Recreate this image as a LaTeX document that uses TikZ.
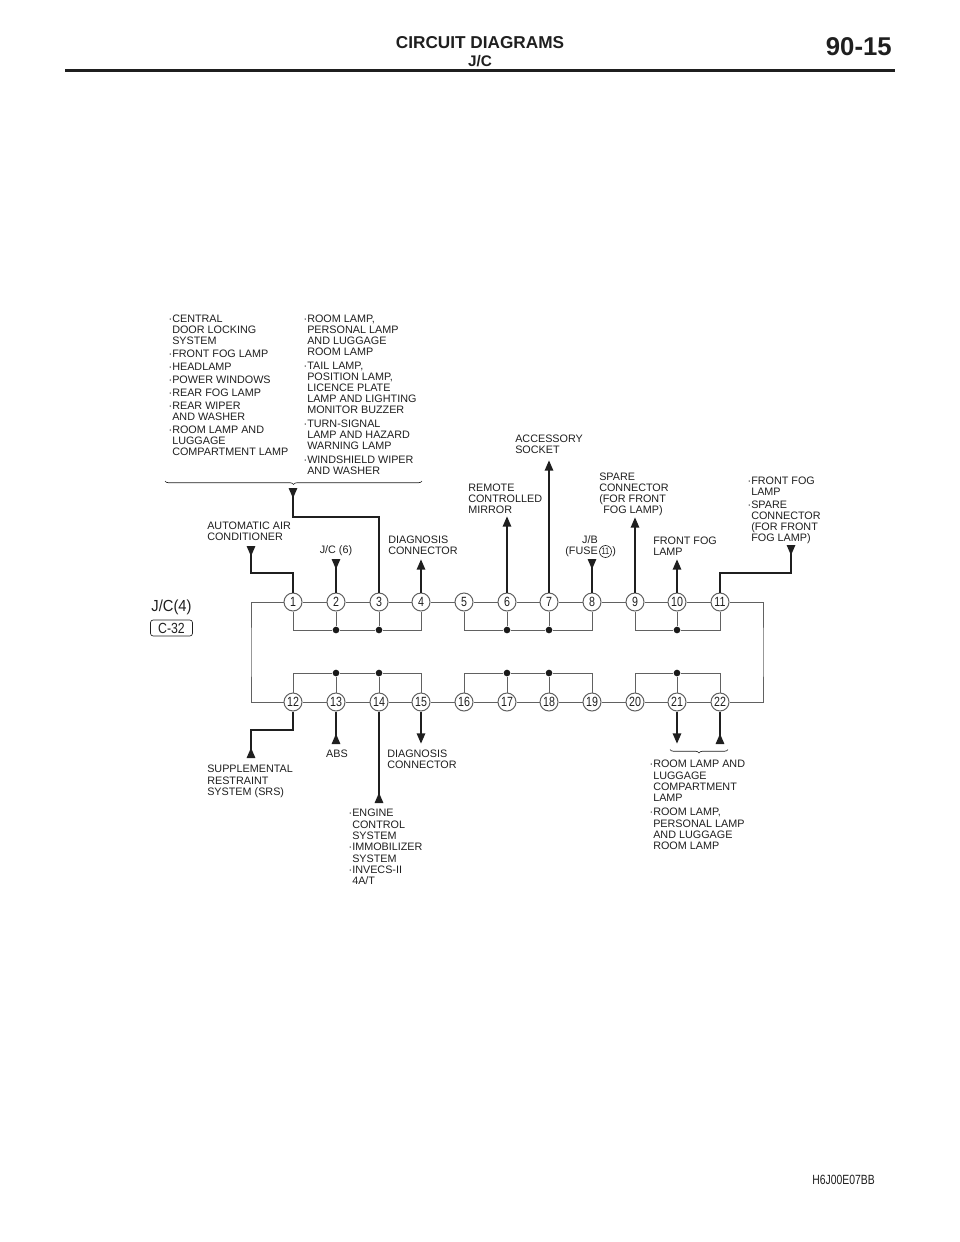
\documentclass[tikz,border=0pt]{standalone}
\usepackage{fontspec}
\setmainfont{Liberation Sans}
\usetikzlibrary{positioning,arrows.meta,decorations.pathreplacing}
\newcommand{\narrownum}[2][.8]{\scalebox{#1}[1]{#2}}
\newcommand{\itemdot}{\llap{\textperiodcentered}}
\definecolor{inkline}{gray}{0.12}
\definecolor{busline}{gray}{0.38}
\tikzset{
  lbl/.style = {anchor = north west, inner sep = 0pt, align = left, text = inkline, font = \fontsize{8.1}{8.25}\selectfont},
  lblwide/.style = {lbl, font = \fontsize{8.1}{8.5}\selectfont},
  lblc/.style = {inner sep = 0pt, align = center, text = inkline, font = \fontsize{8.1}{8.25}\selectfont},
  pin/.style = {draw = busline, fill = white, shape = circle, line width = 0.75pt, minimum size = 13.5pt, inner sep = 0pt, text = inkline, font = \fontsize{10}{10}\selectfont},
  bus/.style = {draw = busline, line width = 0.75pt},
  joint/.style = {fill = black!90, shape = circle, minimum size = 5pt, inner sep = 0pt},
  wire/.style = {draw = inkline, line width = 2pt},
  wireout/.style = {wire, -{Triangle[length = 8pt, width = 6pt]}},
  wirein/.style = {wire, -{Triangle[reversed, length = 8pt, width = 6pt]}},
  bracket/.style = {draw = inkline, line width = 0.5pt, decorate, decoration = {brace, mirror, amplitude = 2.6pt}}
}
\begin{document}
\begin{tikzpicture}[x = 0.75pt, y = -0.75pt]
\useasboundingbox (0,0) rectangle (960,1242);
% page head
\node[inner sep = 0pt, text = inkline, font = \fontsize{12.9}{13}\bfseries] (title) at (480,43) {CIRCUIT DIAGRAMS};
\node[inner sep = 0pt, text = inkline, font = \fontsize{11.5}{12}\bfseries] (subtitle) at (480,61.5) {J/C};
\node[anchor = east, inner sep = 0pt, text = inkline, font = \fontsize{19.3}{20}\bfseries] (pageno) at (892,47) {90-15};
\draw[draw = inkline, line width = 2.2pt] (65,70.5) -- (895,70.5);
% connector pins
\foreach \n/\xp in {1/293,2/336,3/379,4/421,5/464,6/507,7/549,8/592,9/635,10/677,11/720}
  \node[pin] (p\n) at (\xp,602) {\narrownum{\n}};
\foreach \n/\xp in {12/293,13/336,14/379,15/421,16/464,17/507,18/549,19/592,20/635,21/677,22/720}
  \node[pin] (p\n) at (\xp,702) {\narrownum{\n}};
\foreach \a/\b in {1/2,2/3,3/4,4/5,5/6,6/7,7/8,8/9,9/10,10/11,12/13,13/14,14/15,15/16,16/17,17/18,18/19,19/20,20/21,21/22}
  \draw[bus] (p\a) -- (p\b);
\coordinate (railL) at (251,652);
\coordinate (railR) at (763,652);
\draw[bus] (p1) -| (railL) |- (p12);
\draw[bus] (p11) -| (railR) |- (p22);
% joints
\foreach \n/\xp/\yp in {a/336/630,b/379/630,c/507/630,d/549/630,e/677/630,f/336/673,g/379/673,h/507/673,i/549/673,j/677/673}
  \node[joint] (j\n) at (\xp,\yp) {};
\draw[bus] (p1) |- (ja) -- (jb) -| (p4);
\draw[bus] (p2) -- (ja);
\draw[bus] (p3) -- (jb);
\draw[bus] (p5) |- (jc) -- (jd) -| (p8);
\draw[bus] (p6) -- (jc);
\draw[bus] (p7) -- (jd);
\draw[bus] (p9) |- (je) -| (p11);
\draw[bus] (p10) -- (je);
\draw[bus] (p12) |- (jf) -- (jg) -| (p15);
\draw[bus] (p13) -- (jf);
\draw[bus] (p14) -- (jg);
\draw[bus] (p16) |- (jh) -- (ji) -| (p19);
\draw[bus] (p17) -- (jh);
\draw[bus] (p18) -- (ji);
\draw[bus] (p20) |- (jj) -| (p22);
\draw[bus] (p21) -- (jj);
% wire ends and bends
\coordinate (acEnd) at (251,546);
\coordinate (acBend) at (293,573);
\coordinate (jc6End) at (336,559);
\coordinate (bigEnd) at (293,488);
\coordinate (bigBend) at (379,517);
\coordinate (diagEnd) at (421,559);
\coordinate (mirrorEnd) at (507,516);
\coordinate (socketEnd) at (549,460);
\coordinate (fuseEnd) at (592,559);
\coordinate (spareEnd) at (635,517);
\coordinate (fogEnd) at (677,559);
\coordinate (fogBEnd) at (791,545);
\coordinate (fogBBend) at (720,573);
\coordinate (srsEnd) at (251,758);
\coordinate (srsBend) at (293,730);
\coordinate (absEnd) at (336,744);
\coordinate (engEnd) at (379,803);
\coordinate (diagBEnd) at (421,744);
\coordinate (roomAEnd) at (677,744);
\coordinate (roomBEnd) at (720,744);
% wires
\draw[wirein] (p1) -- (acBend) -| (acEnd);
\draw[wirein] (p2) -- (jc6End);
\draw[wirein] (p3) -- (bigBend) -| (bigEnd);
\draw[wireout] (p4) -- (diagEnd);
\draw[wireout] (p6) -- (mirrorEnd);
\draw[wireout] (p7) -- (socketEnd);
\draw[wirein] (p8) -- (fuseEnd);
\draw[wireout] (p9) -- (spareEnd);
\draw[wireout] (p10) -- (fogEnd);
\draw[wirein] (p11) -- (fogBBend) -| (fogBEnd);
\draw[wirein] (p12) -- (srsBend) -| (srsEnd);
\draw[wirein] (p13) -- (absEnd);
\draw[wirein] (p14) -- (engEnd);
\draw[wireout] (p15) -- (diagBEnd);
\draw[wireout] (p21) -- (roomAEnd);
\draw[wirein] (p22) -- (roomBEnd);
% braces
\coordinate (braceTL) at (165,481);
\coordinate (braceTR) at (422,481);
\coordinate (braceBL) at (670,749.5);
\coordinate (braceBR) at (728,749.5);
\draw[bracket] (braceTL) -- (braceTR);
\draw[bracket] (braceBL) -- (braceBR);
% labels
\node[lbl] (sysA) at (172,315) {\itemdot CENTRAL\\DOOR LOCKING\\SYSTEM\\[1.5pt]\itemdot FRONT FOG LAMP\\[1.5pt]\itemdot HEADLAMP\\[1.5pt]\itemdot POWER WINDOWS\\[1.5pt]\itemdot REAR FOG LAMP\\[1.5pt]\itemdot REAR WIPER\\AND WASHER\\[1.5pt]\itemdot ROOM LAMP AND\\LUGGAGE\\COMPARTMENT LAMP};
\node[lbl] (sysB) at (307,315) {\itemdot ROOM LAMP,\\PERSONAL LAMP\\AND LUGGAGE\\ROOM LAMP\\[2.1pt]\itemdot TAIL LAMP,\\POSITION LAMP,\\LICENCE PLATE\\LAMP AND LIGHTING\\MONITOR BUZZER\\[2.1pt]\itemdot TURN-SIGNAL\\LAMP AND HAZARD\\WARNING LAMP\\[2.1pt]\itemdot WINDSHIELD WIPER\\AND WASHER};
\node[lbl] (acLbl) at (207,522) {AUTOMATIC AIR\\CONDITIONER};
\node[lblc] (jc6Lbl) at (336,551) {J/C (6)};
\node[lbl] (diagLbl) at (388,536) {DIAGNOSIS\\CONNECTOR};
\node[lbl] (mirrorLbl) at (468,484) {REMOTE\\CONTROLLED\\MIRROR};
\node[lbl] (socketLbl) at (515,435) {ACCESSORY\\SOCKET};
\node[lbl] (spareLbl) at (599,473) {SPARE\\CONNECTOR\\(FOR FRONT\\\hspace*{3pt}FOG LAMP)};
\node[lblc] (jbLbl) at (590,540) {J/B};
\node[lbl, anchor = east] (fuseLbl) at (598,551.5) {(FUSE};
\node[draw = inkline, shape = circle, line width = 0.5pt, minimum size = 9pt, inner sep = 0pt, text = inkline, font = \fontsize{7}{7}\selectfont] (fuseNo) at (605.5,551.5) {\narrownum{11}};
\node[lbl, anchor = west] (fuseEndLbl) at (612,551.5) {)};
\node[lbl] (fogLbl) at (653,537) {FRONT FOG\\LAMP};
\node[lbl] (fogBLbl) at (751,476.5) {\itemdot FRONT FOG\\LAMP\\[1.5pt]\itemdot SPARE\\CONNECTOR\\(FOR FRONT\\FOG LAMP)};
\node[lblwide] (srsLbl) at (207,765) {SUPPLEMENTAL\\RESTRAINT\\SYSTEM (SRS)};
\node[lblc] (absLbl) at (337,754) {ABS};
\node[lbl] (diagBLbl) at (387,750) {DIAGNOSIS\\CONNECTOR};
\node[lblwide] (engLbl) at (352,809) {\itemdot ENGINE\\CONTROL\\SYSTEM\\\itemdot IMMOBILIZER\\SYSTEM\\\itemdot INVECS-II\\4A/T};
\node[lblwide] (roomLbl) at (653,760) {\itemdot ROOM LAMP AND\\LUGGAGE\\COMPARTMENT\\LAMP\\[2pt]\itemdot ROOM LAMP,\\PERSONAL LAMP\\AND LUGGAGE\\ROOM LAMP};
% connector name
\node[inner sep = 0pt, text = inkline, font = \fontsize{12}{12}\selectfont] (jcName) at (171.5,607) {\narrownum[.92]{J/C(4)}};
\node[draw = inkline, rounded corners = 2pt, line width = 0.5pt, minimum width = 31.5pt, minimum height = 12pt, inner sep = 0pt, text = inkline, font = \fontsize{11}{11}\selectfont] (cName) at (171.5,628) {\narrownum[.84]{C-32}};
\node[anchor = east, inner sep = 0pt, text = inkline, font = \fontsize{10}{10}\selectfont] (codeLbl) at (875,1180) {\narrownum[.78]{H6J00E07BB}};
\end{tikzpicture}
\end{document}
